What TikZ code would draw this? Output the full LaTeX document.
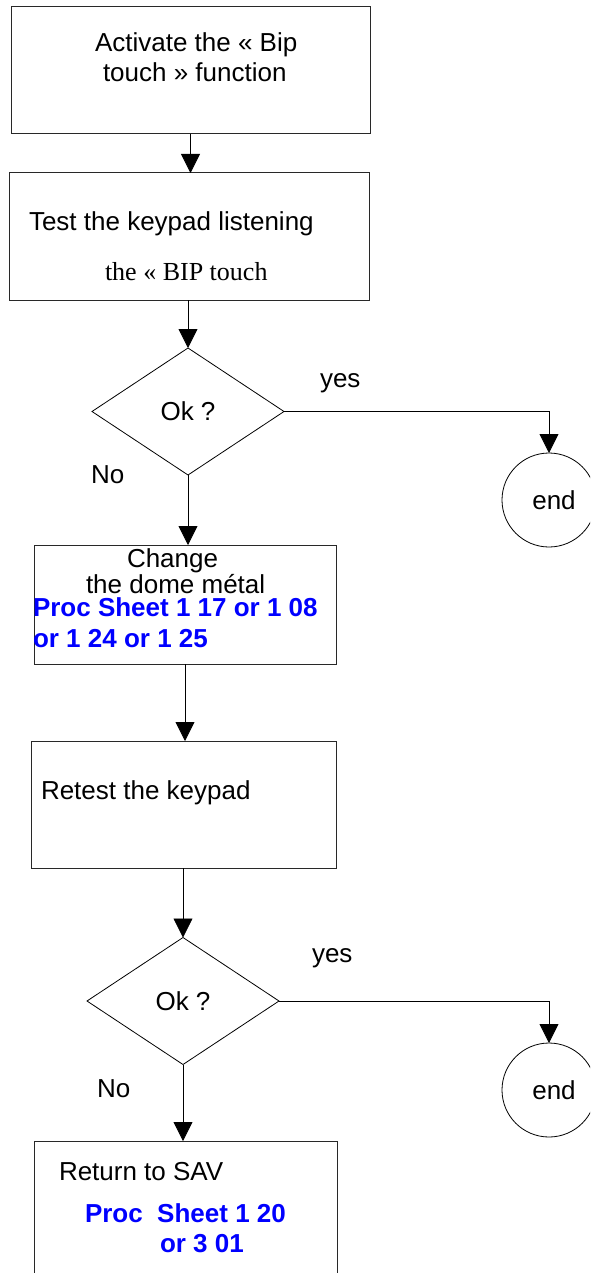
\documentclass[tikz,border=0pt]{standalone}
\usepackage{fontspec}
\setmainfont{Liberation Sans}
\newfontfamily\timesface{Liberation Serif}
\usetikzlibrary{shapes.geometric,arrows.meta}
\definecolor{procblue}{RGB}{0,0,255}
\definecolor{edgegray}{RGB}{40,40,40}
\begin{document}
\begin{tikzpicture}[x=1pt,y=-1pt,
  every node/.style={font=\fontsize{26}{30}\selectfont, inner sep=0pt, outer sep=0pt},
  stepbox/.style={draw=edgegray, line width=1pt, rectangle},
  decision/.style={draw, line width=0.8pt, diamond, minimum width=192pt, minimum height=127pt},
  endcircle/.style={draw, line width=0.8pt, circle, minimum size=94pt},
  txt/.style={anchor=base west},
  proc/.style={anchor=base west, text=procblue, font=\fontsize{26}{30}\selectfont\bfseries},
  arr/.style={line width=0.8pt, -{Triangle[length=19pt,width=19pt]}}]

\path[use as bounding box] (0,0) rectangle (590,1273);
\clip (0,0) rectangle (590,1273);

% process boxes
\node[stepbox, minimum width=359pt, minimum height=127pt] (b1) at (190.5,70.5) {};
\node[stepbox, minimum width=360pt, minimum height=127pt] (b2) at (189,236.5) {};
\node[stepbox, minimum width=302pt, minimum height=119pt] (b3) at (185,604.5) {};
\node[stepbox, minimum width=305pt, minimum height=127pt] (b4) at (183.5,804.5) {};
\node[stepbox, minimum width=303pt, minimum height=160pt] (b5) at (185.5,1221) {};

% decisions and terminals
\node[decision] (d1) at (188,411.5) {Ok ?};
\node[decision] (d2) at (183,1001) {Ok ?};
\node[endcircle, label={[xshift=5pt]center:end}] (e1) at (549,500) {};
\node[endcircle, label={[xshift=5pt]center:end}] (e2) at (549,1090) {};

% box texts
\node[txt] (t1a) at (95,52) {Activate the « Bip};
\node[txt] (t1b) at (103,82) {touch » function};
\node[txt] (t2a) at (29,230) {Test the keypad listening};
\node[txt, font=\fontsize{26}{30}\timesface] (t2b) at (105,280) {the « BIP touch};
\node[txt] (t3a) at (127,567) {Change};
\node[txt] (t3b) at (86,593) {the dome métal};
\node[proc] (t3c) at (33,616) {Proc Sheet 1 17 or 1 08};
\node[proc] (t3d) at (33,647) {or 1 24 or 1 25};
\node[txt] (t4a) at (41,799) {Retest the keypad};
\node[txt] (t5a) at (59,1180) {Return to SAV};
\node[proc] (t5b) at (85,1222) {Proc\ \ Sheet 1 20};
\node[proc] (t5c) at (160,1252) {or 3 01};

% branch labels
\node[txt] (y1) at (320,387) {yes};
\node[txt] (n1) at (91,483) {No};
\node[txt] (y2) at (312,962) {yes};
\node[txt] (n2) at (97,1097) {No};

% connectors
\draw[arr] (b1.south) -- (b1.south |- b2.north);
\draw[arr] (d1.north |- b2.south) -- (d1.north);
\draw[arr] (d1.east) -| (e1.north);
\draw[arr] (d1.south) -- (d1.south |- b3.north);
\draw[arr] (b3.south) -- (b3.south |- b4.north);
\draw[arr] (d2.north |- b4.south) -- (d2.north);
\draw[arr] (d2.east) -| (e2.north);
\draw[arr] (d2.south) -- (d2.south |- b5.north);
\end{tikzpicture}
\end{document}
